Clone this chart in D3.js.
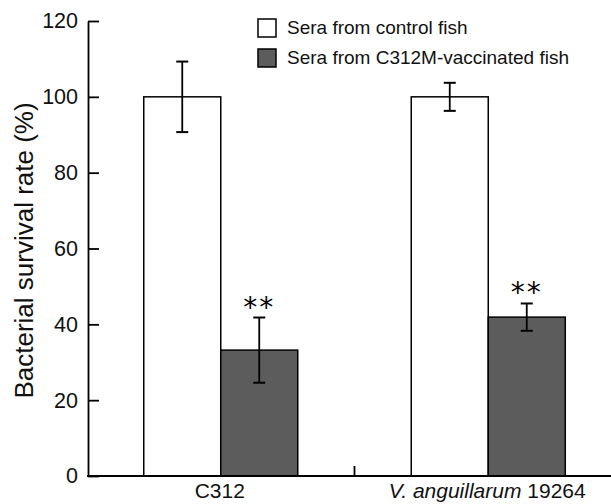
<!DOCTYPE html>
<html>
<head>
<meta charset="utf-8">
<script src="https://cdn.jsdelivr.net/npm/d3@7"></script>
<style>
  body { margin: 0; background: #fff; }
  svg { font-family: "Liberation Sans", Arial, sans-serif; }
</style>
</head>
<body>
<svg id="chart" width="611" height="504"></svg>
<script>
const svg = d3.select("#chart");

// Data
const strains = ["C312", "V. anguillarum 19264"];
const series = ["Sera from control fish", "Sera from C312M-vaccinated fish"];
const controlMean = [100, 100];
const controlErr = [9.3, 3.7];
const vaccMean = [33.2, 41.9];
const vaccErr = [8.6, 3.6];
const yTicks = [0, 20, 40, 60, 80, 100, 120];
const colors = ["#ffffff", "#5c5c5c"];

const rows = strains.flatMap((s, i) => [
  { strain: s, series: series[0], value: controlMean[i], err: controlErr[i], star: false },
  { strain: s, series: series[1], value: vaccMean[i], err: vaccErr[i], star: true }
]);

// Scales
const y = d3.scaleLinear().domain([0, 120]).range([476, 21]);
const x0 = d3.scaleBand().domain(strains).range([87, 622]).padding(0);
const x1 = d3.scaleBand().domain(series).range([0, x0.bandwidth()])
  .paddingInner(0).paddingOuter(0.737);
const color = d3.scaleOrdinal().domain(series).range(colors);

// ---------- BARS ----------
const bar = svg.append("g").selectAll("g")
  .data(rows)
  .join("g")
  .attr("transform", d => `translate(${x0(d.strain) + x1(d.series)},0)`);

bar.append("rect")
  .attr("y", d => y(d.value))
  .attr("width", x1.bandwidth())
  .attr("height", d => y(0) - y(d.value))
  .attr("fill", d => color(d.series))
  .attr("stroke", "#000")
  .attr("stroke-width", 1.5);

// error bars
const cx = x1.bandwidth() / 2;
bar.append("line")
  .attr("x1", cx).attr("x2", cx)
  .attr("y1", d => y(d.value + d.err))
  .attr("y2", d => y(d.value - d.err))
  .attr("stroke", "#000").attr("stroke-width", 1.8);
bar.selectAll(".cap")
  .data(d => [d.value + d.err, d.value - d.err])
  .join("line")
  .attr("x1", cx - 6).attr("x2", cx + 6)
  .attr("y1", v => y(v)).attr("y2", v => y(v))
  .attr("stroke", "#000").attr("stroke-width", 2);

// significance stars
bar.filter(d => d.star).append("text")
  .attr("x", cx)
  .attr("y", d => y(d.value + d.err) - 1)
  .attr("text-anchor", "middle")
  .style("font-family", "'DejaVu Sans', sans-serif")
  .style("font-size", "28px")
  .style("letter-spacing", "2px")
  .text("**");

// ---------- Y AXIS ----------
const yAxis = svg.append("g")
  .attr("transform", "translate(88,0)")
  .call(d3.axisLeft(y).tickValues(yTicks).tickSize(-11).tickSizeOuter(0).tickPadding(10));
yAxis.select(".domain").attr("stroke-width", 1.8);
yAxis.selectAll(".tick line").attr("stroke-width", 1.8);
yAxis.selectAll(".tick text").style("font-size", "21.5px").attr("fill", "#111");

svg.append("text")
  .attr("transform", `translate(33,${(y(0) + y(120)) / 2 + 2}) rotate(-90)`)
  .attr("text-anchor", "middle")
  .style("font-size", "26px")
  .attr("fill", "#111")
  .text("Bacterial survival rate (%)");

// ---------- X AXIS ----------
svg.append("line")
  .attr("x1", 87).attr("x2", 611)
  .attr("y1", y(0)).attr("y2", y(0))
  .attr("stroke", "#000").attr("stroke-width", 1.8);
svg.append("line")
  .attr("x1", x0(strains[1])).attr("x2", x0(strains[1]))
  .attr("y1", y(0)).attr("y2", y(0) - 10)
  .attr("stroke", "#000").attr("stroke-width", 1.8);

const xLabels = svg.append("g").selectAll("text")
  .data(strains)
  .join("text")
  .attr("x", d => x0(d) + x0.bandwidth() / 2 - 1)
  .attr("y", 498)
  .attr("text-anchor", "middle")
  .style("font-size", "21px")
  .attr("fill", "#111");
xLabels.each(function(d) {
  const t = d3.select(this);
  const m = d.match(/^(V\. anguillarum) (.*)$/);
  if (m) {
    t.append("tspan").style("font-style", "italic").text(m[1]);
    t.append("tspan").text(" " + m[2]);
  } else {
    t.text(d);
  }
});

// ---------- LEGEND ----------
const legend = svg.append("g").attr("transform", "translate(258,19)")
  .selectAll("g")
  .data(series)
  .join("g")
  .attr("transform", (d, i) => `translate(0,${i * 30})`);
legend.append("rect")
  .attr("width", 18).attr("height", 18)
  .attr("fill", d => color(d))
  .attr("stroke", "#000").attr("stroke-width", 1.5);
legend.append("text")
  .attr("x", 29).attr("y", 15)
  .style("font-size", "19px")
  .attr("fill", "#111")
  .text(d => d);
</script>
</body>
</html>
